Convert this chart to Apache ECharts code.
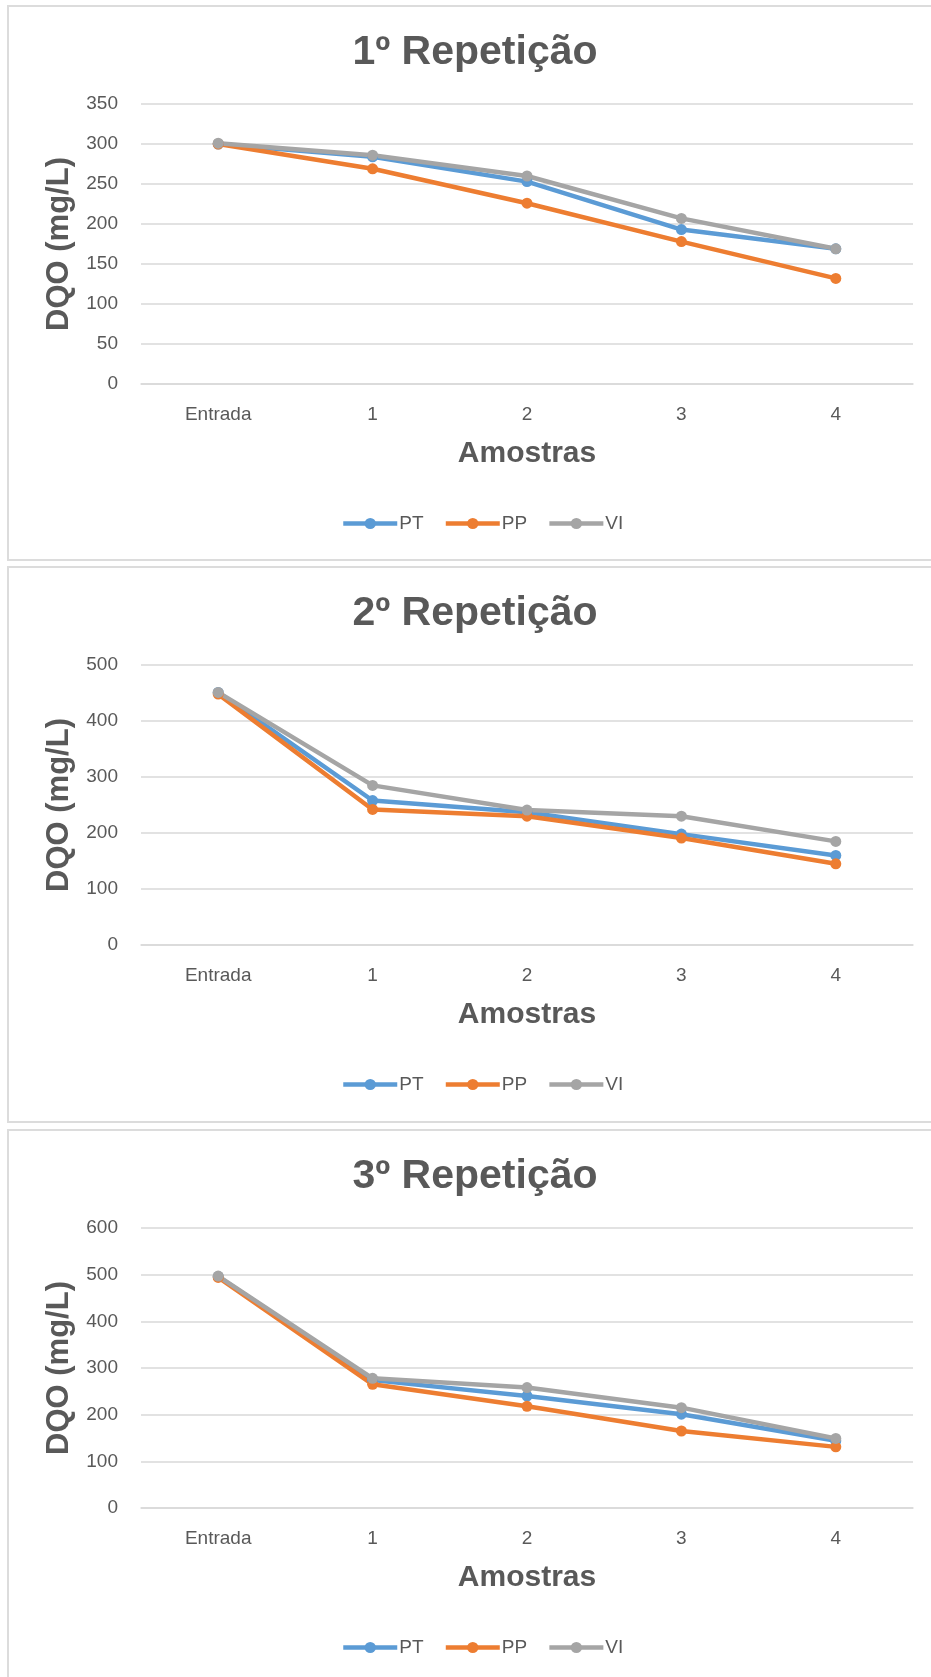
<!DOCTYPE html>
<html>
<head>
<meta charset="utf-8">
<script src="https://cdn.jsdelivr.net/npm/echarts@6/dist/echarts.min.js"></script>
<style>
  html, body { margin: 0; padding: 0; background: #ffffff; overflow: hidden; }
  #chart { width: 931px; height: 1677px; }
</style>
</head>
<body>
<div id="chart"></div>
<script>
// Sample points along the treatment line
const categories = ['Entrada', '1', '2', '3', '4'];
const seriesNames = ['PT', 'PP', 'VI'];
const chartTitles = ['1º Repetição', '2º Repetição', '3º Repetição'];
const xAxisTitle = 'Amostras';
const yAxisTitle = 'DQO (mg/L)';

// DQO (mg/L), 1st repetition
const rep1PT = [300, 284, 253, 193, 169];
const rep1PP = [300, 269, 226, 178, 132];
const rep1VI = [301, 286, 260, 207, 169];

// DQO (mg/L), 2nd repetition
const rep2PT = [451, 258, 237, 198, 160];
const rep2PP = [448, 242, 230, 191, 145];
const rep2VI = [451, 285, 241, 230, 185];

// DQO (mg/L), 3rd repetition
const rep3PT = [496, 274, 240, 201, 144];
const rep3PP = [494, 265, 218, 165, 131];
const rep3VI = [497, 278, 258, 215, 149];

// Value axis ranges per repetition
const yMaxes = [350, 500, 600];
const yIntervals = [50, 100, 100];

const repetitions = [
  [rep1PT, rep1PP, rep1VI],
  [rep2PT, rep2PP, rep2VI],
  [rep3PT, rep3PP, rep3VI]
];

const colors = ['#5B9BD5', '#ED7D31', '#A5A5A5'];
const textGray = '#595959';
const gridGray = '#D9D9D9';
const baseFont = '"Liberation Sans", Arial, sans-serif';

// Each repetition lives in its own framed panel
const panelTops = [6, 567, 1130];
const panelHeights = [554, 555, 600];
const panelLeft = 8;
const panelCenterX = 475;

const titles = [], grids = [], xAxes = [], yAxes = [], legends = [], series = [], graphics = [];

panelTops.forEach((top, i) => {
  graphics.push({
    type: 'rect',
    shape: { x: panelLeft, y: top, width: 960, height: panelHeights[i] },
    style: { fill: 'none', stroke: '#DCDCDC', lineWidth: 2 },
    silent: true,
    z: -1
  });

  titles.push({
    text: chartTitles[i],
    left: panelCenterX,
    textAlign: 'center',
    top: top + 26,
    padding: 0,
    textStyle: { fontFamily: baseFont, fontSize: 41, fontWeight: 'bold', color: textGray }
  });

  grids.push({ left: 141, right: 18, top: top + 98, height: 280 });

  xAxes.push({
    type: 'category',
    gridIndex: i,
    data: categories,
    boundaryGap: true,
    name: xAxisTitle,
    nameLocation: 'middle',
    nameGap: 55,
    nameTextStyle: { fontFamily: baseFont, fontSize: 30, fontWeight: 'bold', color: textGray },
    axisLine: { show: true, lineStyle: { color: gridGray, width: 1.5 } },
    axisTick: { show: false },
    axisLabel: { fontFamily: baseFont, fontSize: 19, color: textGray, margin: 21 },
    splitLine: { show: false }
  });

  yAxes.push({
    type: 'value',
    gridIndex: i,
    min: 0,
    max: yMaxes[i],
    interval: yIntervals[i],
    name: yAxisTitle,
    nameLocation: 'middle',
    nameGap: 66,
    nameTextStyle: { fontFamily: baseFont, fontSize: 31, fontWeight: 'bold', color: textGray },
    axisLine: { show: false },
    axisTick: { show: false },
    axisLabel: { fontFamily: baseFont, fontSize: 19, color: textGray, margin: 23 },
    splitLine: { show: true, lineStyle: { color: gridGray, width: 1.5 } }
  });

  legends.push({
    data: seriesNames,
    left: 341,
    top: top + 508,
    padding: 0,
    itemWidth: 54,
    itemHeight: 14,
    itemGap: 20,
    lineStyle: { width: 4.5 },
    textStyle: { fontFamily: baseFont, fontSize: 19, color: textGray, padding: [0, 0, 0, -3] }
  });

  repetitions[i].forEach((values, s) => {
    series.push({
      name: seriesNames[s],
      type: 'line',
      xAxisIndex: i,
      yAxisIndex: i,
      data: values,
      symbol: 'circle',
      symbolSize: 11,
      lineStyle: { color: colors[s], width: 4.5 },
      itemStyle: { color: colors[s] },
      emphasis: { disabled: true },
      animation: false
    });
  });
});

const chart = echarts.init(document.getElementById('chart'), null, { renderer: 'canvas' });
chart.setOption({
  backgroundColor: '#ffffff',
  color: colors,
  animation: false,
  title: titles,
  grid: grids,
  xAxis: xAxes,
  yAxis: yAxes,
  legend: legends,
  series: series,
  graphic: graphics
});
</script>
</body>
</html>
